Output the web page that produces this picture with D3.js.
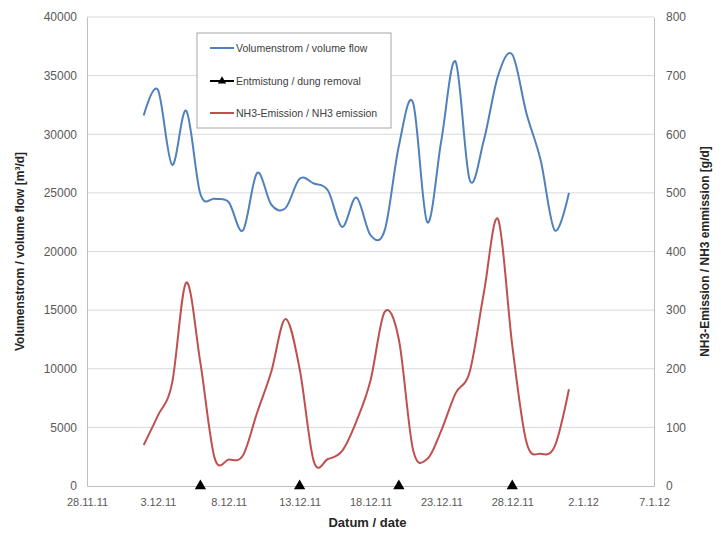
<!DOCTYPE html>
<html>
<head>
<meta charset="utf-8">
<script src="https://cdn.jsdelivr.net/npm/d3@7"></script>
<style>
  body { margin: 0; background: #fff; }
  svg { display: block; font-family: "Liberation Sans", Arial, sans-serif; }
</style>
</head>
<body>
<svg id="chart" width="721" height="535"></svg>
<script>
// Daily measurements, 2.12.2011 – 1.1.2012
const firstDay = "2.12.11";
const volumeFlow = [31600, 33800, 27400, 32000, 24900, 24500, 24200, 21800, 26700, 24000,
                    23700, 26200, 25800, 25200, 22100, 24600, 21400, 21800, 29000, 32700,
                    22500, 29500, 36200, 26100, 29500, 35000, 36800, 31800, 27800, 21800, 25000];
const nh3Emission = [70, 120, 175, 347, 210, 48, 45, 52, 125, 195,
                     285, 200, 42, 46, 60, 110, 180, 297, 250, 62,
                     46, 95, 158, 195, 330, 455, 240, 75, 55, 68, 165];
// Dung removal days (drawn on the zero line)
const dungRemoval = ["6.12.11", "13.12.11", "20.12.11", "28.12.11"];

const xTickLabels = ["28.11.11", "3.12.11", "8.12.11", "13.12.11", "18.12.11", "23.12.11", "28.12.11", "2.1.12", "7.1.12"];
const leftTicks = [0, 5000, 10000, 15000, 20000, 25000, 30000, 35000, 40000];
const rightTicks = [0, 100, 200, 300, 400, 500, 600, 700, 800];

const legendItems = ["Volumenstrom / volume flow", "Entmistung / dung removal", "NH3-Emission / NH3 emission"];

const parse = d3.timeParse("%d.%m.%y");
const start = parse(firstDay);
const days = volumeFlow.map((_, i) => d3.timeDay.offset(start, i));
const xTickDates = xTickLabels.map(parse);

const svg = d3.select("#chart");
const plot = { left: 87, right: 654, top: 17, bottom: 486 };

const x = d3.scaleTime().domain([xTickDates[0], xTickDates[xTickDates.length - 1]]).range([plot.left, plot.right]);
const yL = d3.scaleLinear().domain([0, 40000]).range([plot.bottom, plot.top]);
const yR = d3.scaleLinear().domain([0, 800]).range([plot.bottom, plot.top]);

const labelColor = "#595959";

// Horizontal gridlines
svg.append("g").selectAll("line").data(leftTicks.slice(1)).join("line")
  .attr("x1", plot.left).attr("x2", plot.right)
  .attr("y1", d => yL(d)).attr("y2", d => yL(d))
  .attr("stroke", "#d9d9d9").attr("stroke-width", 1);

// Left axis
const leftAxis = svg.append("g").attr("transform", `translate(${plot.left},0)`)
  .call(d3.axisLeft(yL).tickValues(leftTicks).tickSize(0).tickPadding(10).tickFormat(d3.format("d")));
leftAxis.select(".domain").attr("stroke", "#bfbfbf");
leftAxis.selectAll("text").attr("fill", labelColor).style("font-size", "12px");

// Right axis
const rightAxis = svg.append("g").attr("transform", `translate(${plot.right},0)`)
  .call(d3.axisRight(yR).tickValues(rightTicks).tickSize(0).tickPadding(12).tickFormat(d3.format("d")));
rightAxis.select(".domain").attr("stroke", "#bfbfbf");
rightAxis.selectAll("text").attr("fill", labelColor).style("font-size", "12px");

// Bottom axis
const bottomAxis = svg.append("g").attr("transform", `translate(0,${plot.bottom})`)
  .call(d3.axisBottom(x).tickValues(xTickDates).tickSize(0).tickPadding(12)
    .tickFormat((d, i) => xTickLabels[i]));
bottomAxis.select(".domain").attr("stroke", "#bfbfbf");
bottomAxis.selectAll("text").attr("fill", labelColor).style("font-size", "11px");

// Series lines
const curve = d3.curveCatmullRom.alpha(0);
svg.append("path")
  .datum(volumeFlow)
  .attr("fill", "none").attr("stroke", "#4f81bd").attr("stroke-width", 2)
  .attr("d", d3.line().x((d, i) => x(days[i])).y(d => yL(d)).curve(curve));

svg.append("path")
  .datum(nh3Emission)
  .attr("fill", "none").attr("stroke", "#c0504d").attr("stroke-width", 2)
  .attr("d", d3.line().x((d, i) => x(days[i])).y(d => yR(d)).curve(curve));

// Dung removal markers
const tri = d3.symbol().type(d3.symbolTriangle).size(55);
svg.append("g").selectAll("path").data(dungRemoval).join("path")
  .attr("transform", d => `translate(${x(parse(d))},${yL(0)})`)
  .attr("d", tri).attr("fill", "#000");

// Axis titles
svg.append("text")
  .attr("transform", `translate(24,${(plot.top + plot.bottom) / 2}) rotate(-90)`)
  .attr("text-anchor", "middle").attr("font-weight", "bold").attr("font-size", 12).attr("fill", "#262626")
  .text("Volumenstrom / volume flow [m³/d]");

svg.append("text")
  .attr("transform", `translate(709,${(plot.top + plot.bottom) / 2}) rotate(-90)`)
  .attr("text-anchor", "middle").attr("font-weight", "bold").attr("font-size", 12).attr("fill", "#262626")
  .text("NH3-Emission / NH3 emmission [g/d]");

svg.append("text")
  .attr("x", (plot.left + plot.right) / 2 - 3).attr("y", 527)
  .attr("text-anchor", "middle").attr("font-weight", "bold").attr("font-size", 13).attr("fill", "#262626")
  .text("Datum / date");

// Legend
const legend = svg.append("g").attr("transform", "translate(197,33)");
legend.append("rect").attr("width", 194).attr("height", 95)
  .attr("fill", "#fff").attr("stroke", "#a6a6a6").attr("stroke-width", 1);
const legendColors = ["#4f81bd", "#000", "#c0504d"];
const rowY = [15, 48, 80];
legendItems.forEach((label, i) => {
  const row = legend.append("g").attr("transform", `translate(0,${rowY[i]})`);
  row.append("line").attr("x1", 13).attr("x2", 37).attr("y1", 0).attr("y2", 0)
    .attr("stroke", legendColors[i]).attr("stroke-width", 2);
  if (i === 1) {
    row.append("path").attr("transform", "translate(25,0)")
      .attr("d", d3.symbol().type(d3.symbolTriangle).size(30)).attr("fill", "#000");
  }
  row.append("text").attr("x", 39).attr("y", 3.5)
    .attr("font-size", 10.5).attr("fill", "#404040").text(label);
});
</script>
</body>
</html>
